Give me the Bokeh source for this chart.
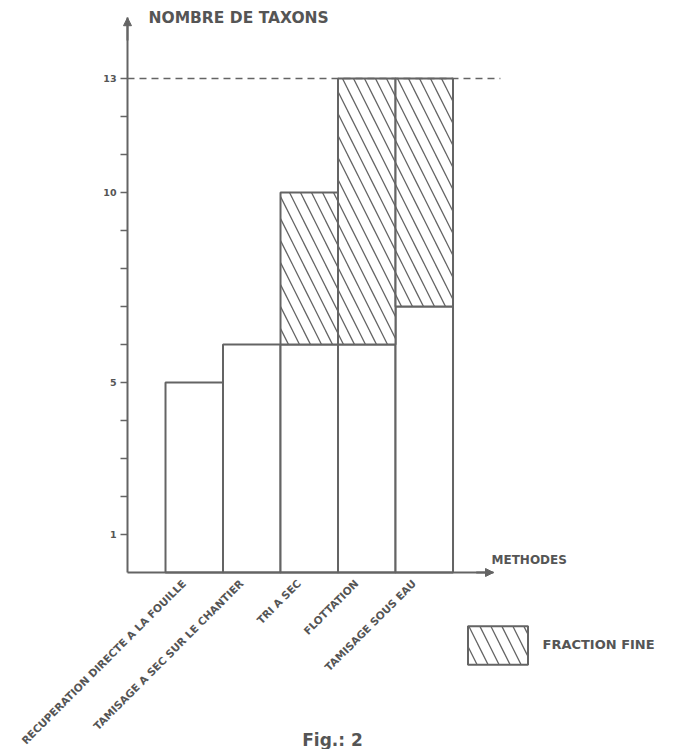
from math import pi
from bokeh.plotting import figure
from bokeh.models import (ColumnDataSource, FixedTicker, Label, Legend, LegendItem,
                          Arrow, NormalHead, LinearAxis, Range1d)
from bokeh.embed import file_html
from bokeh.resources import INLINE

# ---------------- data ----------------
methods = ["RECUPERATION DIRECTE A LA FOUILLE",
           "TAMISAGE A SEC SUR LE CHANTIER",
           "TRI A SEC",
           "FLOTTATION",
           "TAMISAGE SOUS EAU"]
coarse = [5, 6, 6, 6, 7]          # taxa without fine fraction
fine = [0, 0, 4, 7, 6]            # additional taxa from fine fraction
y_ticks = list(range(1, 14))
y_tick_labels = {1: "1", 5: "5", 10: "10", 13: "13"}
max_taxa = 13

# ---------------- styles ----------------
INK = "#646464"
TXT = "#555555"
FONT = "DejaVu Sans"

positions = list(range(1, len(methods) + 1))
# full-canvas frame; axes drawn at fixed data locations
X0, X1 = -2.3696, 9.543
Y0, Y1 = -4.658, 15.053
ax_x = -0.161          # position of the vertical axis
ax_xend = 6.204        # end of horizontal axis (arrow tip)
ax_yend = 14.6         # end of vertical axis (arrow tip)
label_shift = -0.18    # rotated category labels sit slightly left of bar centres

p = figure(width=685, height=749, x_range=Range1d(X0, X1), y_range=Range1d(Y0, Y1),
           output_backend="svg", toolbar_location=None,
           x_axis_type=None, y_axis_type=None, min_border=0)
p.outline_line_color = None
p.background_fill_color = "white"
p.border_fill_color = "white"
p.xgrid.visible = False
p.ygrid.visible = False

# axes
yax = LinearAxis(ticker=FixedTicker(ticks=y_ticks), fixed_location=ax_x, bounds=(0, ax_yend),
                 major_label_overrides={t: y_tick_labels.get(t, "") for t in y_ticks})
yax.axis_line_color = INK
yax.axis_line_width = 2
yax.major_tick_line_color = INK
yax.major_tick_line_width = 1.5
yax.major_tick_out = 7
yax.major_tick_in = 0
yax.minor_tick_line_color = None
yax.major_label_text_font = FONT
yax.major_label_text_font_style = "bold"
yax.major_label_text_font_size = "9.5px"
yax.major_label_text_color = TXT
yax.major_label_standoff = 4
p.add_layout(yax, "left")

lab_ticks = [pos + label_shift for pos in positions]
xax = LinearAxis(ticker=FixedTicker(ticks=lab_ticks), fixed_location=0, bounds=(ax_x, ax_xend),
                 major_label_overrides={t: m for t, m in zip(lab_ticks, methods)})
xax.axis_line_color = INK
xax.axis_line_width = 2
xax.major_tick_line_color = None
xax.minor_tick_line_color = None
xax.major_label_orientation = pi / 4
xax.major_label_text_font = FONT
xax.major_label_text_font_style = "bold"
xax.major_label_text_font_size = "10.5px"
xax.major_label_text_color = TXT
xax.major_label_standoff = 3
p.add_layout(xax, "below")

# bars
src_c = ColumnDataSource(dict(x=positions, top=coarse))
p.vbar(x="x", top="top", bottom=0, width=1.0, source=src_c,
       fill_color="white", line_color=INK, line_width=2)

fx = [pos for pos, f in zip(positions, fine) if f > 0]
fb = [c for c, f in zip(coarse, fine) if f > 0]
ft = [c + f for c, f in zip(coarse, fine) if f > 0]
src_f = ColumnDataSource(dict(x=fx, bottom=fb, top=ft))
r_fine = p.vbar(x="x", top="top", bottom="bottom", width=1.0, source=src_f,
                fill_color="white", line_color=INK, line_width=2,
                hatch_pattern="\\", hatch_color=INK, hatch_weight=1.3, hatch_scale=22)

# dashed reference line at maximum
p.segment(x0=[ax_x], y0=[max_taxa], x1=[ax_xend + 0.12], y1=[max_taxa],
          line_color=INK, line_width=1.5, line_dash="7 5")

# arrows at axis ends
p.add_layout(Arrow(end=NormalHead(size=8, fill_color=INK, line_color=INK),
                   x_start=ax_x, y_start=ax_yend - 0.6, x_end=ax_x, y_end=ax_yend,
                   line_color=INK, line_width=2))
p.add_layout(Arrow(end=NormalHead(size=8, fill_color=INK, line_color=INK),
                   x_start=ax_xend - 0.3, y_start=0, x_end=ax_xend, y_end=0,
                   line_color=INK, line_width=2))

# texts
def lab(x, y, t, size, align="left", baseline="middle"):
    p.add_layout(Label(x=x, y=y, text=t, text_font=FONT, text_font_style="bold",
                       text_font_size=size, text_color=TXT, text_align=align,
                       text_baseline=baseline))

lab(0.204, 14.58, "NOMBRE DE TAXONS", "15.5px")
lab(6.17, 0.32, "METHODES", "12px")
lab(3.404, -4.42, "Fig.: 2", "17px", align="center")

# legend
legend = Legend(items=[LegendItem(label="FRACTION FINE", renderers=[r_fine])],
                location=(459.5, 80.25), glyph_width=75, glyph_height=48,
                padding=0, margin=0, label_standoff=8,
                border_line_color=None, background_fill_alpha=0,
                label_text_font=FONT, label_text_font_style="bold",
                label_text_font_size="13px", label_text_color=TXT)
p.add_layout(legend, "center")

open("out.html", "w").write(file_html(p, INLINE))
